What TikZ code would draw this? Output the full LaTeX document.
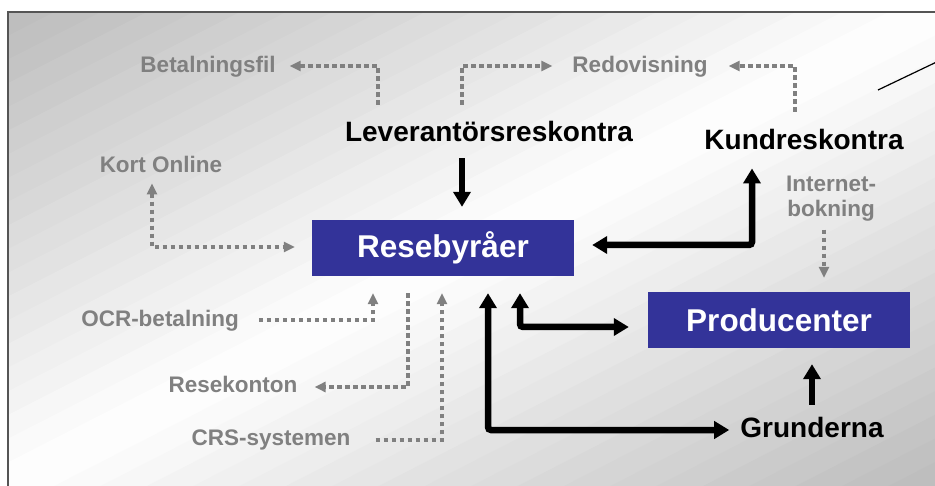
\documentclass[tikz,border=0pt]{standalone}
\usepackage{fontspec}
\setmainfont{Liberation Sans}
\usetikzlibrary{arrows.meta}
\definecolor{boxblue}{RGB}{51,51,153}
\definecolor{extgray}{RGB}{128,128,128}
\definecolor{bgshade}{RGB}{188,188,188}
\definecolor{framegray}{RGB}{85,85,85}
\tikzset{
    every node/.style={align=center,},
    unit/.style={fill=boxblue,text=white,minimum width=262pt,minimum height=56pt,inner sep=0pt,font=\fontsize{31.5}{36}\selectfont\bfseries,},
    part/.style={inner sep=0pt,anchor=base,font=\fontsize{28}{32}\selectfont\bfseries,},
    extern/.style={inner sep=0pt,anchor=base,text=extgray,font=\fontsize{22.5}{25}\selectfont\bfseries,},
    flow/.style={color=extgray,line width=3.5pt,dash pattern=on 4.5pt off 3.5pt,>={Triangle[width=10pt,length=11pt]},},
    link/.style={line width=6.5pt,rounded corners=3pt,>={Triangle[width=17pt,length=15pt]},},
}

\begin{document}
\begin{tikzpicture}[x=1pt,y=-1pt]
        \useasboundingbox (0,0) rectangle (935,486);
        \fill[white] (0,0) rectangle (935,486);
        \begin{scope}
            \clip (8,12) rectangle (935,486);
            \foreach \i in {0,...,39}{
                \pgfmathsetmacro{\sa}{\i/20}
                \pgfmathsetmacro{\sb}{(\i+1.1)/20}
                \pgfmathsetmacro{\mix}{100*abs(1-(\i+0.5)/20)}
                \fill[bgshade!\mix!white] (8+927*\sa,12) -- (8+927*\sb,12) -- (8,12+474*\sb) -- (8,12+474*\sa) -- cycle;
            }
        \end{scope}
        \draw[framegray,line width=1.2pt] (8,486) -- (8,12) -- (935,12);

        \node[unit] (rese) at (443,248) {Resebyråer};
        \node[unit] (prod) at (779,320) {Producenter};

        \node[part] (lev) at (489,142) {Leverantörsreskontra};
        \node[part] (kund) at (804,150) {Kundreskontra};
        \node[part] (grund) at (812,437) {Grunderna};

        \node[extern] (betal) at (208,73) {Betalningsfil};
        \node[extern] (redo) at (640,73) {Redovisning};
        \node[extern] (kort) at (161,173) {Kort Online};
        \node[extern,anchor=north] (inet) at (831,176) {Internet-\\bokning};
        \node[extern] (ocr) at (160,327) {OCR-betalning};
        \node[extern] (resek) at (233,393) {Resekonton};
        \node[extern] (crs) at (271,445) {CRS-systemen};

        \coordinate (c1) at (378,66);
        \coordinate (c2) at (462,66);
        \coordinate (c3) at (795,66);
        \coordinate (c4) at (152,247);
        \coordinate (c5) at (373,320);
        \coordinate (c6) at (408,387);
        \coordinate (c7) at (442,440);
        \coordinate (c10) at (752,245);
        \coordinate (c11) at (520,327);
        \coordinate (c12) at (488,430);
        \coordinate (ln1) at (878,90);
        \coordinate (ln2) at (945,58);

        \draw[flow,->,shorten <=17pt,shorten >=14pt] (c1 |- lev.north) -- (c1) -- (c1 -| betal.east);
        \draw[flow,->,shorten <=17pt,shorten >=20pt] (c2 |- lev.north) -- (c2) -- (c2 -| redo.west);
        \draw[flow,->,shorten <=18pt,shorten >=21pt] (c3 |- kund.north) -- (c3) -- (c3 -| redo.east);
        \draw[flow,<->,shorten <=10pt,shorten >=17pt] (c4 |- kort.south) -- (c4) -- (c4 -| rese.west);
        \draw[flow,->,shorten <=20pt,shorten >=17pt] (c5 -| ocr.east) -- (c5) -- (c5 |- rese.south);
        \draw[flow,->,shorten <=17pt,shorten >=17pt] (c6 |- rese.south) -- (c6) -- (c6 -| resek.east);
        \draw[flow,->,shorten <=25pt,shorten >=17pt] (c7 -| crs.east) -- (c7) -- (c7 |- rese.south);
        \draw[flow,->,shorten <=8pt,shorten >=14pt] ([xshift=-7pt]inet.south) -- ([xshift=-7pt]inet.south |- prod.north);

        \draw[link,->,shorten <=16pt,shorten >=13pt] (c2 |- lev.south) -- (c2 |- rese.north);
        \draw[link,<->,shorten <=18pt,shorten >=18pt] (c10 -| rese.east) -- (c10) -- (c10 |- kund.south);
        \draw[link,<->,shorten <=17pt,shorten >=19pt] (c11 |- rese.south) -- (c11) -- (c11 -| prod.west);
        \draw[link,<->,shorten <=17pt,shorten >=11pt] (c12 |- rese.south) -- (c12) -- (c12 -| grund.west);
        \draw[link,->,shorten <=12pt,shorten >=16pt] (grund.north) -- (grund.north |- prod.south);

        \draw[line width=1.2pt] (ln1) -- (ln2);
\end{tikzpicture}
\end{document}
